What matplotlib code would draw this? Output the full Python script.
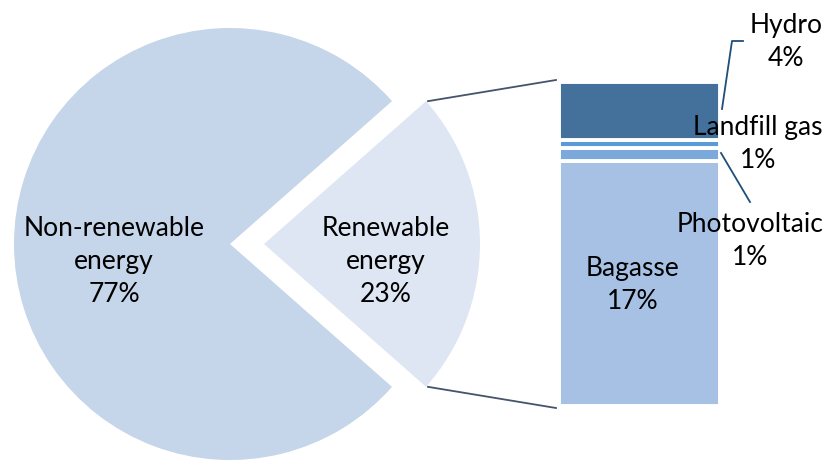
import numpy as np
import matplotlib
matplotlib.use('Agg')
import matplotlib.pyplot as plt

# data
pie_labels = ['Non-renewable\nenergy', 'Renewable\nenergy']
pie_values = [77, 23]
pie_colors = ['#c5d5ea', '#dfe6f3']

bar_labels = ['Bagasse', 'Photovoltaic', 'Landfill gas', 'Hydro']
bar_values = [17.4, 0.9, 0.6, 4.1]
bar_colors = ['#a6c1e4', '#7ca9dc', '#5b9bd5', '#43719c']

W, H = 826, 461
plt.rcParams['font.family'] = ['Lato', 'DejaVu Sans']
fig = plt.figure(figsize=(W / 100, H / 100), dpi=100)

# main axes in pixel coords (y up)
ax = fig.add_axes([0, 0, 1, 1])
ax.set_zorder(2)

cx, cy, r = 230, H - 244, 216
explode_px = 34
half = pie_values[1] / sum(pie_values) * 360 / 2
ax.pie(pie_values, colors=pie_colors, startangle=half, center=(cx, cy), radius=r,
       explode=[0, explode_px], wedgeprops=dict(linewidth=0), frame=True)
ax.set_xlim(0, W)
ax.set_ylim(0, H)
ax.set_aspect('equal')
ax.axis('off')

fs = 19
ax.text(114, H - 262, '%s\n%d%%' % (pie_labels[0], pie_values[0]), ha='center', va='center',
        fontsize=fs, linespacing=1.4)
ax.text(386, H - 262, '%s\n%d%%' % (pie_labels[1], pie_values[1]), ha='center', va='center',
        fontsize=fs, linespacing=1.4)

# bar of pie
bl, bt, bw, bh = 559, 82, 161, 324
ax2 = fig.add_axes([bl / W, (H - bt - bh) / H, bw / W, bh / H])
ax2.set_zorder(1)
bottom = 0
for lab, v, c in zip(bar_labels, bar_values, bar_colors):
    ax2.bar(0, v, bottom=bottom, width=1, color=c, edgecolor='white', linewidth=2.8)
    bottom += v
ax2.set_xlim(-0.5, 0.5)
ax2.set_ylim(0, sum(bar_values))
ax2.axis('off')

# connector lines from renewable wedge to bar
ang = np.radians(half)
ox = cx + explode_px
for s in (1, -1):
    x0 = ox + r * np.cos(ang)
    y0 = cy + s * r * np.sin(ang)
    y1 = H - bt + 2 if s == 1 else H - bt - bh - 2
    ax.plot([x0 + 2, bl - 3], [y0, y1], color='#44546a', lw=1.3)

# labels for bar segments
lc = '#1f4e79'
ax.plot([722, 732, 743], [H - 109, H - 41, H - 41], color=lc, lw=1.3)
ax.plot([721, 750], [H - 153, H - 202], color=lc, lw=1.3)
ax.text(633, H - 285, '%s\n%d%%' % (bar_labels[0], round(bar_values[0])), ha='center', va='center',
        fontsize=fs, linespacing=1.4)
ax.text(750, H - 241, '%s\n%d%%' % (bar_labels[1], round(bar_values[1])), ha='center', va='center',
        fontsize=fs, linespacing=1.4)
ax.text(758, H - 144, '%s\n%d%%' % (bar_labels[2], round(bar_values[2])), ha='center', va='center',
        fontsize=fs, linespacing=1.4)
ax.text(786, H - 42, '%s\n%d%%' % (bar_labels[3], round(bar_values[3])), ha='center', va='center',
        fontsize=fs, linespacing=1.4)

fig.savefig('out.png', dpi=100)
